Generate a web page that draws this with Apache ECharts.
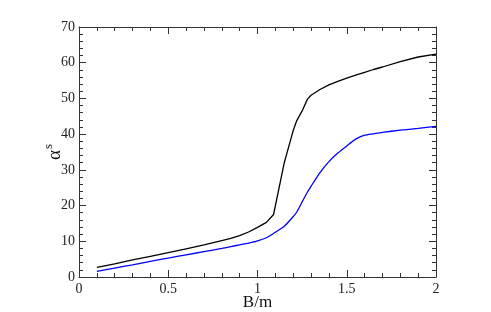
<!DOCTYPE html>
<html>
<head>
<meta charset="utf-8">
<script src="https://cdn.jsdelivr.net/npm/echarts@6/dist/echarts.min.js"></script>
<style>
  html, body { margin: 0; padding: 0; background: #fff; }
  #echarts { width: 491px; height: 312px; }
</style>
</head>
<body>
<div id="echarts"></div>
<script>
// valores de B/m (eixo x)
var bValues = [0.1, 0.2, 0.3, 0.4, 0.5, 0.6, 0.7, 0.8, 0.85, 0.9, 0.95, 1.0, 1.05, 1.09,
    1.15, 1.2, 1.22, 1.25, 1.28, 1.3, 1.35, 1.4, 1.45, 1.5, 1.55, 1.6, 1.65, 1.7, 1.8, 1.9, 2.0];

// curva preta
var blackValues = [2.7, 3.7, 4.8, 5.8, 6.8, 7.9, 9.0, 10.2, 10.8, 11.6, 12.6, 13.9, 15.3, 17.5,
    32.0, 41.0, 43.8, 46.5, 49.8, 50.9, 52.5, 53.8, 54.8, 55.7, 56.5, 57.3, 58.1, 58.8, 60.3, 61.6, 62.4];

// curva azul
var blueValues = [1.6, 2.5, 3.4, 4.4, 5.3, 6.2, 7.1, 8.0, 8.5, 9.0, 9.5, 10.1, 11.0, 12.2,
    14.2, 16.9, 18.2, 21.0, 23.8, 25.4, 29.2, 32.3, 34.7, 36.7, 38.6, 39.7, 40.1, 40.5, 41.1, 41.6, 42.2];

var chart = echarts.init(document.getElementById('echarts'));

function pares(ys) {
    return bValues.map(function (x, i) {
        return [x, ys[i]];
    });
}

var axisColor = '#333';
var fonte = 'Liberation Serif';

// eixo com marcas internas (principais e secundárias)
function eixoBase(extra) {
    var base = {
        axisLine: { show: true, onZero: false, lineStyle: { color: axisColor, width: 1 } },
        axisTick: { show: true, inside: true, length: 7, lineStyle: { color: axisColor, width: 1 } },
        minorTick: { show: true, splitNumber: 5, length: 4, lineStyle: { color: axisColor, width: 1 } },
        splitLine: { show: false },
        minorSplitLine: { show: false },
        axisLabel: { color: '#222', fontFamily: fonte, fontSize: 14 }
    };
    return Object.assign(base, extra);
}

var options = {
    backgroundColor: '#fff',
    animation: false,
    grid: { left: 79, right: 55, top: 27, bottom: 35, outerBoundsMode: 'none', containLabel: false },
    xAxis: [
        eixoBase({
            type: 'value', min: 0, max: 2, interval: 0.5, position: 'bottom',
            name: 'B/m', nameLocation: 'middle', nameGap: 17, nameMoveOverlap: false,
            nameTextStyle: { fontFamily: fonte, fontSize: 17, color: '#111' },
            axisLabel: { color: '#222', fontFamily: fonte, fontSize: 14, margin: 5 }
        }),
        eixoBase({
            type: 'value', min: 0, max: 2, interval: 0.5, position: 'top',
            axisLabel: { show: false }
        })
    ],
    yAxis: [
        eixoBase({
            type: 'value', min: 0, max: 70, interval: 10, position: 'left',
            name: '{a|α}{s|s}', nameLocation: 'middle', nameGap: 11, nameMoveOverlap: false,
            nameTextStyle: {
                fontFamily: fonte, color: '#111',
                rich: {
                    a: { fontFamily: fonte, fontSize: 19, color: '#111' },
                    s: { fontFamily: fonte, fontSize: 13, color: '#111', padding: [0, 0, 13, 1] }
                }
            },
            axisLabel: { color: '#222', fontFamily: fonte, fontSize: 14, margin: 4 }
        }),
        eixoBase({
            type: 'value', min: 0, max: 70, interval: 10, position: 'right',
            axisLabel: { show: false }
        })
    ],
    series: [
        {
            name: 'preta',
            type: 'line',
            showSymbol: false,
            lineStyle: { color: '#000', width: 1.3 },
            data: pares(blackValues)
        },
        {
            name: 'azul',
            type: 'line',
            showSymbol: false,
            smooth: 0.2,
            lineStyle: { color: '#0000ff', width: 1.3 },
            data: pares(blueValues)
        }
    ]
};

chart.setOption(options);
</script>
</body>
</html>
